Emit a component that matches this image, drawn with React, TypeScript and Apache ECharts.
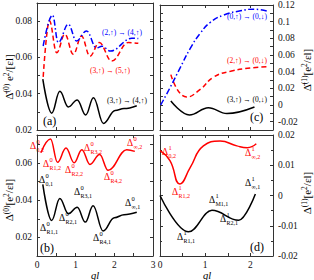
import React, { useEffect, useRef } from "react";
import * as echarts from "echarts";

// ---------- data ----------
// Panel (a)
const qlA1 = [0.15, 0.38, 0.59, 0.81, 1.04, 1.26, 1.46, 1.72, 2.02, 2.25, 2.58];
const valA1 = [0.048, 0.0293, 0.0413, 0.0327, 0.0366, 0.0283, 0.0378, 0.0236, 0.0308, 0.0318, 0.0334];
const qlA2 = [0.16, 0.32, 0.51, 0.72, 0.94, 1.15, 1.37, 1.61, 1.93, 2.36, 2.62];
const valA2 = [0.0493, 0.0802, 0.0626, 0.0728, 0.0617, 0.0718, 0.0607, 0.0682, 0.058, 0.0682, 0.0678];
const qlA3 = [0.16, 0.4, 0.55, 0.81, 1.02, 1.28, 1.54, 1.68, 1.9, 2.45, 2.62];
const valA3 = [0.0663, 0.0833, 0.0682, 0.0783, 0.0691, 0.0746, 0.0652, 0.0662, 0.0635, 0.0706, 0.0704];
// Panel (b)
const qlB1 = [0.15, 0.38, 0.59, 0.81, 1.04, 1.25, 1.45, 1.71, 2.0, 2.25, 2.58];
const valB1 = [0.0485, 0.0291, 0.0409, 0.0327, 0.0362, 0.0282, 0.037, 0.0234, 0.0305, 0.0322, 0.0335];
const qlB2 = [0.1, 0.35, 0.53, 0.75, 0.96, 1.16, 1.37, 1.62, 1.84, 2.32, 2.53];
const valB2 = [0.0655, 0.0728, 0.0603, 0.068, 0.0601, 0.0671, 0.0592, 0.0645, 0.056, 0.0671, 0.0662];
// Panel (c)
const qlC1 = [0.24, 0.65, 1.07, 1.48, 2.09];
const valC1 = [0.0048, -0.0119, -0.0032, -0.0103, -0.0024];
const qlC2 = [0.24, 0.59, 0.89, 1.18, 1.56, 2.0, 2.41];
const valC2 = [0.0365, 0.0095, 0.0187, 0.0333, 0.0405, 0.0444, 0.046];
const qlC3 = [0.015, 0.22, 0.44, 0.67, 0.89, 1.11, 1.41, 1.78, 2.07, 2.41];
const valC3 = [0, 0.0206, 0.044, 0.068, 0.086, 0.099, 0.108, 0.113, 0.115, 0.112];
// Panel (d)
const qlD1 = [0, 0.63, 1.15, 1.74, 2.11];
const valD1 = [0, -0.012, -0.0049, -0.0082, 0.0005];
const qlD2 = [0, 0.22, 0.44, 0.67, 0.96, 1.33, 1.7, 1.93, 2.13];
const valD2 = [0.0148, 0.0115, 0.0038, 0.0093, 0.0164, 0.018, 0.0164, 0.0158, 0.0171];

const SERIF = "Liberation Serif";
const RED = "#ff0000";
const BLUE = "#0000ff";
const BLACK = "#000000";
const AX = "#333333";

const pairs = (xs: number[], ys: number[]) => xs.map((x, i) => [x, ys[i]]);

const evenFmt = (v: number) => {
  const k = Math.round(v * 100);
  if (Math.abs(v * 100 - k) > 1e-6 || k % 2 !== 0) return "";
  return String(Number(v.toFixed(2)));
};

function xAx(g: number, max: number, pos: string, labels: boolean) {
  return {
    type: "value",
    gridIndex: g,
    min: 0,
    max,
    interval: 0.5,
    position: pos,
    axisLine: { show: true, onZero: false, lineStyle: { color: AX, width: 1 } },
    axisTick: { show: true, inside: true, length: 3, lineStyle: { color: AX } },
    axisLabel: {
      show: labels,
      formatter: (v: number) => (Math.abs(v - Math.round(v)) < 1e-9 ? String(Math.round(v)) : ""),
      fontSize: 9.5,
      color: "#111",
      fontFamily: SERIF,
      margin: 4,
    },
    splitLine: { show: false },
  };
}

function yAx(g: number, min: number, max: number, interval: number, pos: string, labels: boolean, fmt: any, minor: boolean) {
  return {
    type: "value",
    gridIndex: g,
    min,
    max,
    interval,
    position: pos,
    axisLine: { show: true, onZero: false, lineStyle: { color: AX, width: 1 } },
    axisTick: { show: true, inside: true, length: 3, lineStyle: { color: AX } },
    minorTick: { show: minor, splitNumber: 2, length: 2, lineStyle: { color: AX } },
    axisLabel: { show: labels, formatter: fmt, fontSize: 9.5, color: "#111", fontFamily: SERIF, margin: 5 },
    splitLine: { show: false },
  };
}

function line(xs: number[], ys: number[], color: string, type: any, xi: number, yi: number, mono: boolean) {
  return {
    type: "line",
    xAxisIndex: xi,
    yAxisIndex: yi,
    data: pairs(xs, ys),
    smooth: mono ? 0.4 : 0.5,
    smoothMonotone: mono ? "x" : undefined,
    symbol: "none",
    showSymbol: false,
    silent: true,
    lineStyle: { color, width: 1.5, type },
  };
}

function txt(x: number, y: number, text: string, color: string, size: number) {
  return {
    type: "text",
    x,
    y,
    silent: true,
    style: { text, fill: color, fontSize: size, fontFamily: SERIF, align: "left", verticalAlign: "middle" },
  };
}

function delta(x: number, y: number, sup: string, sub: string, color: string) {
  return {
    type: "group",
    x,
    y,
    silent: true,
    children: [
      { type: "text", style: { text: "Δ", x: 0, y: 0, fill: color, fontSize: 9.5, fontFamily: SERIF, align: "left", verticalAlign: "middle" } },
      { type: "text", style: { text: sup, x: 6.5, y: -4.5, fill: color, fontSize: 6.5, fontFamily: SERIF, align: "left", verticalAlign: "middle" } },
      { type: "text", style: { text: sub, x: 6.5, y: 3.8, fill: color, fontSize: 6, fontFamily: SERIF, align: "left", verticalAlign: "middle" } },
    ],
  };
}

function ytitle(x: number, y: number, parts: [string, boolean][]) {
  const text = parts.map(([t, s]) => `{${s ? "s" : "b"}|${t}}`).join("");
  return {
    type: "text",
    x,
    y,
    rotation: Math.PI / 2,
    silent: true,
    style: {
      text,
      align: "center",
      verticalAlign: "middle",
      fill: "#000",
      rich: {
        b: { fontSize: 11, fontFamily: SERIF, lineHeight: 12, verticalAlign: "bottom", fill: "#000" },
        s: { fontSize: 7.5, fontFamily: SERIF, lineHeight: 12, verticalAlign: "top", fill: "#000" },
      },
    },
  };
}

export default function App() {
  const ref = useRef<HTMLDivElement>(null);
  useEffect(() => {
    document.body.style.margin = "0";
    if (!ref.current) return;
    const chart = echarts.init(ref.current, undefined, { renderer: "svg" });
    const dashed = [5, 3];
    const dashDot = [6, 2.5, 1.5, 2.5];
    const option: any = {
      animation: false,
      textStyle: { fontFamily: SERIF },
      grid: [
        { left: 37, top: 3, width: 116, height: 127 },
        { left: 37, top: 135, width: 116, height: 121 },
        { left: 160, top: 3, width: 113, height: 127 },
        { left: 160, top: 135, width: 113, height: 121 },
      ],
      xAxis: [
        xAx(0, 3, "bottom", false),
        xAx(0, 3, "top", false),
        xAx(1, 3, "bottom", true),
        xAx(1, 3, "top", false),
        xAx(2, 2.5, "bottom", false),
        xAx(2, 2.5, "top", false),
        xAx(3, 2.5, "bottom", true),
        xAx(3, 2.5, "top", false),
      ],
      yAxis: [
        yAx(0, 0.02, 0.09, 0.01, "left", true, evenFmt, false),
        yAx(0, 0.02, 0.09, 0.01, "right", false, evenFmt, false),
        yAx(1, 0.01, 0.075, 0.01, "left", true, evenFmt, false),
        yAx(1, 0.01, 0.075, 0.01, "right", false, evenFmt, false),
        yAx(2, -0.03, 0.12, 0.01, "right", true, evenFmt, false),
        yAx(2, -0.03, 0.12, 0.01, "left", false, evenFmt, false),
        yAx(3, -0.02, 0.02, 0.01, "right", true, (v: number) => String(Number(v.toFixed(2))), true),
        yAx(3, -0.02, 0.02, 0.01, "left", false, (v: number) => String(Number(v.toFixed(2))), true),
      ],
      series: [
        line(qlA1, valA1, BLACK, "solid", 0, 0, true),
        line(qlA2, valA2, RED, dashed, 0, 0, true),
        line(qlA3, valA3, BLUE, dashDot, 0, 0, true),
        line(qlB1, valB1, BLACK, "solid", 2, 2, true),
        line(qlB2, valB2, RED, "solid", 2, 2, true),
        line(qlC1, valC1, BLACK, "solid", 4, 4, true),
        line(qlC2, valC2, RED, dashed, 4, 4, false),
        line(qlC3, valC3, BLUE, dashDot, 4, 4, false),
        line(qlD1, valD1, BLACK, "solid", 6, 6, true),
        line(qlD2, valD2, RED, "solid", 6, 6, false),
      ],
      graphic: [
        txt(102, 32, "(2,↑) → (4,↑)", BLUE, 7.5),
        txt(90, 70, "(3,↑) → (5,↑)", RED, 7.5),
        txt(107, 100, "(3,↑) → (4,↑)", BLACK, 7.5),
        txt(43, 121, "(a)", BLACK, 12),
        txt(227, 16, "(0,↑) → (0,↓)", BLUE, 7.5),
        txt(227, 60, "(2,↑) → (0,↓)", RED, 7.5),
        txt(227, 99, "(3,↑) → (0,↓)", BLACK, 7.5),
        txt(250, 117, "(c)", BLACK, 12),
        txt(40, 248, "(b)", BLACK, 12),
        txt(250, 247, "(d)", BLACK, 12),
        delta(30, 146, "0", "0,2", RED),
        delta(43, 164, "0", "R1,2", RED),
        delta(65, 170, "0", "R2,2", RED),
        delta(84, 148, "0", "R3,2", RED),
        delta(104, 177, "0", "R4,2", RED),
        delta(127, 143, "0", "∞,2", RED),
        delta(39, 180, "0", "0,1", BLACK),
        delta(40, 228, "0", "R1,1", BLACK),
        delta(59, 218, "0", "R2,1", BLACK),
        delta(74, 192, "0", "R3,1", BLACK),
        delta(93, 238, "0", "R4,1", BLACK),
        delta(125, 203, "0", "∞,1", BLACK),
        delta(162, 152, "1", "0,2", RED),
        delta(172, 192, "1", "R1,2", RED),
        delta(245, 153, "1", "∞,2", RED),
        delta(209, 200, "1", "M1,1", BLACK),
        delta(245, 183, "1", "∞,1", BLACK),
        delta(177, 237, "1", "R1,1", BLACK),
        delta(220, 219, "1", "R2,1", BLACK),
        {
          type: "text", x: 95, y: 275, silent: true,
          style: { text: "ql", fontSize: 10.5, fontStyle: "italic", fontFamily: SERIF, fill: "#000", align: "center", verticalAlign: "middle" },
        },
        {
          type: "text", x: 207, y: 275, silent: true,
          style: { text: "ql", fontSize: 10.5, fontStyle: "italic", fontFamily: SERIF, fill: "#000", align: "center", verticalAlign: "middle" },
        },
        ytitle(8, 77, [["Δ̄", false], ["(0)", true], [" e", false], ["2", true], ["/[εl]", false]]),
        ytitle(8, 200, [["Δ", false], ["(0)", true], ["[e", false], ["2", true], ["/εl]", false]]),
        ytitle(306, 70, [["Δ̄", false], ["(1)", true], ["[e", false], ["2", true], ["/εl]", false]]),
        ytitle(306, 193, [["Δ", false], ["(1)", true], ["[e", false], ["2", true], ["/εl]", false]]),
      ],
    };
    chart.setOption(option);
    return () => chart.dispose();
  }, []);
  return <div ref={ref} style={{ width: 314, height: 280 }} />;
}
